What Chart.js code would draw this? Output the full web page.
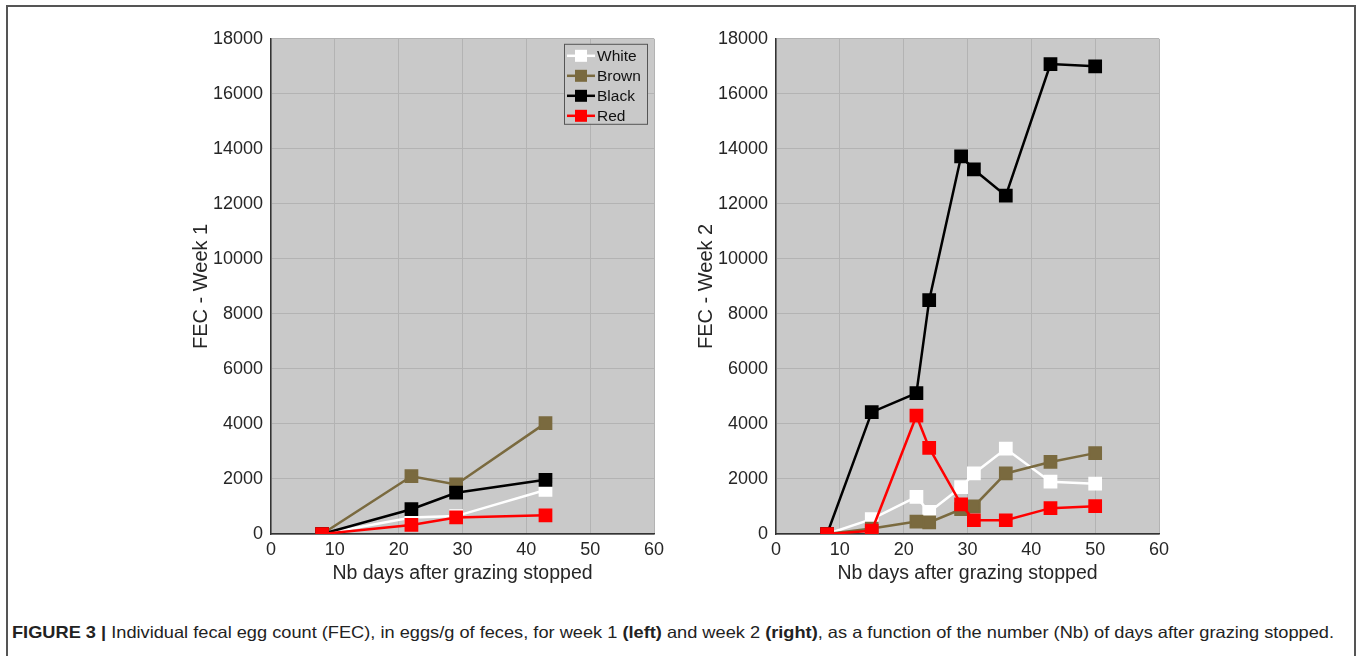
<!DOCTYPE html>
<html>
<head>
<meta charset="utf-8">
<script src="https://cdn.jsdelivr.net/npm/chart.js@4/dist/chart.umd.min.js"></script>
<style>
html,body{margin:0;padding:0;background:#fff;width:1357px;height:656px;overflow:hidden;}
#frame{position:absolute;left:6px;top:5px;width:1350px;height:700px;border:2px solid #555;box-sizing:border-box;}
canvas{position:absolute;top:20px;}
#c1{left:150px;}
#c2{left:655px;}
#caption{position:absolute;left:12px;top:623px;font-family:"Liberation Sans Narrow","Liberation Sans",Arial,sans-serif;font-size:16.5px;color:#222;white-space:nowrap;transform-origin:0 0;}
#caption b{font-weight:bold;}
</style>
</head>
<body>
<div id="frame"></div>
<canvas id="c1" width="520" height="580"></canvas>
<canvas id="c2" width="520" height="580"></canvas>
<div id="caption"><b>FIGURE 3 |</b> Individual fecal egg count (FEC), in eggs/g of feces, for week 1 <b>(left)</b> and week 2 <b>(right)</b>, as a function of the number (Nb) of days after grazing stopped.</div>
<script>
// ---- Data ----
const seriesNames = ['White', 'Brown', 'Black', 'Red'];
const seriesColors = ['#ffffff', '#7a6a3f', '#000000', '#ff0000'];

// Week 1
const days1 = [8, 22, 29, 43];
const white1 = [0, 600, 650, 1600];
const brown1 = [0, 2100, 1800, 4030];
const black1 = [0, 900, 1500, 1970];
const red1 = [0, 330, 600, 680];

// Week 2
const days2 = [8, 15, 22, 24, 29, 31, 36, 43, 50];
const white2 = [0, 540, 1350, 800, 1700, 2200, 3100, 1900, 1830];
const brown2 = [0, 200, 450, 420, 900, 1000, 2200, 2620, 2940];
const black2 = [0, 4430, 5120, 8500, 13730, 13250, 12300, 17080, 17000];
const red2 = [0, 120, 4300, 3130, 1080, 500, 500, 940, 1010];

const xMin = 0, xMax = 60, xStep = 10;
const yMin = 0, yMax = 18000, yStep = 2000;
const xTitle = 'Nb days after grazing stopped';
const yTitle1 = 'FEC - Week 1';
const yTitle2 = 'FEC - Week 2';

// ---- Styling ----
const FONT = '"Liberation Sans", Arial, Helvetica, sans-serif';
const TEXT = '#262626';
const PLOT_BG = '#c9c9c9';

const bgPlugin = {
  id: 'plotBg',
  beforeDraw(chart) {
    const ca = chart.chartArea, ctx = chart.ctx;
    ctx.save();
    ctx.fillStyle = PLOT_BG;
    ctx.fillRect(ca.left, ca.top, ca.right - ca.left, ca.bottom - ca.top);
    ctx.restore();
  }
};

const legendPlugin = {
  id: 'boxLegend',
  afterDraw(chart, args, opts) {
    if (!opts || !opts.show) return;
    const ctx = chart.ctx, ca = chart.chartArea;
    const w = 83, h = 80;
    const x0 = ca.right - 90, y0 = ca.top + 5;
    ctx.save();
    ctx.fillStyle = PLOT_BG;
    ctx.fillRect(x0, y0, w, h);
    ctx.strokeStyle = '#555';
    ctx.lineWidth = 1;
    ctx.strokeRect(x0 + 0.5, y0 + 0.5, w, h);
    chart.data.datasets.forEach((ds, i) => {
      const cy = y0 + 12 + i * 20;
      ctx.strokeStyle = ds.borderColor;
      ctx.lineWidth = 2.5;
      ctx.beginPath();
      ctx.moveTo(x0 + 3, cy);
      ctx.lineTo(x0 + 31, cy);
      ctx.stroke();
      ctx.fillStyle = ds.borderColor;
      ctx.fillRect(x0 + 17 - 6, cy - 6, 12, 12);
      ctx.fillStyle = '#111';
      ctx.font = '15.5px ' + FONT;
      ctx.textBaseline = 'middle';
      ctx.textAlign = 'left';
      ctx.fillText(ds.label, x0 + 33, cy + 1);
    });
    ctx.restore();
  }
};

function makeDatasets(days, seriesList) {
  return seriesList.map((vals, i) => ({
    label: seriesNames[i],
    data: days.map((d, j) => ({ x: d, y: vals[j] })),
    borderColor: seriesColors[i],
    backgroundColor: seriesColors[i],
    pointBackgroundColor: seriesColors[i],
    pointBorderColor: seriesColors[i],
    borderWidth: 2.5,
    pointStyle: 'rect',
    pointRadius: 8.3,
    pointBorderWidth: 2,
    pointHoverRadius: 8.3,
    tension: 0,
    order: seriesNames.length - i
  }));
}

const plainNum = (v) => String(v);

function makeChart(id, days, seriesList, yTitle, showLegend) {
  return new Chart(document.getElementById(id), {
    type: 'line',
    data: { datasets: makeDatasets(days, seriesList) },
    plugins: [bgPlugin, legendPlugin],
    options: {
      responsive: false,
      animation: false,
      devicePixelRatio: 1,
      layout: { padding: { left: 0, right: 16, top: 16, bottom: 0 } },
      plugins: {
        legend: { display: false },
        tooltip: { enabled: false },
        boxLegend: { show: showLegend }
      },
      scales: {
        x: {
          type: 'linear',
          min: xMin, max: xMax,
          ticks: { stepSize: xStep, color: TEXT, font: { family: FONT, size: 18 }, padding: 5, maxRotation: 0, callback: plainNum },
          grid: { color: '#b3b3b3', lineWidth: 1, drawTicks: false },
          border: { display: true, color: '#333', width: 1.5 },
          title: { display: true, text: xTitle, color: TEXT, font: { family: FONT, size: 19.5 }, padding: { top: 0, bottom: 15 } },
          afterFit(scale) { scale.height = 66; }
        },
        y: {
          type: 'linear',
          min: yMin, max: yMax,
          ticks: { stepSize: yStep, color: TEXT, font: { family: FONT, size: 18 }, padding: 8, callback: plainNum },
          grid: { color: '#b3b3b3', lineWidth: 1, drawTicks: false },
          border: { display: true, color: '#333', width: 1.5 },
          title: { display: true, text: yTitle, color: TEXT, font: { family: FONT, size: 20 }, padding: { top: 39, bottom: 0 } },
          afterFit(scale) { scale.width = 121; }
        }
      }
    }
  });
}

makeChart('c1', days1, [white1, brown1, black1, red1], yTitle1, true);
makeChart('c2', days2, [white2, brown2, black2, red2], yTitle2, false);

// fit caption to the reference width
const cap = document.getElementById('caption');
const wCap = cap.getBoundingClientRect().width;
cap.style.transform = 'scaleX(' + (1322 / wCap) + ')';
</script>
</body>
</html>
